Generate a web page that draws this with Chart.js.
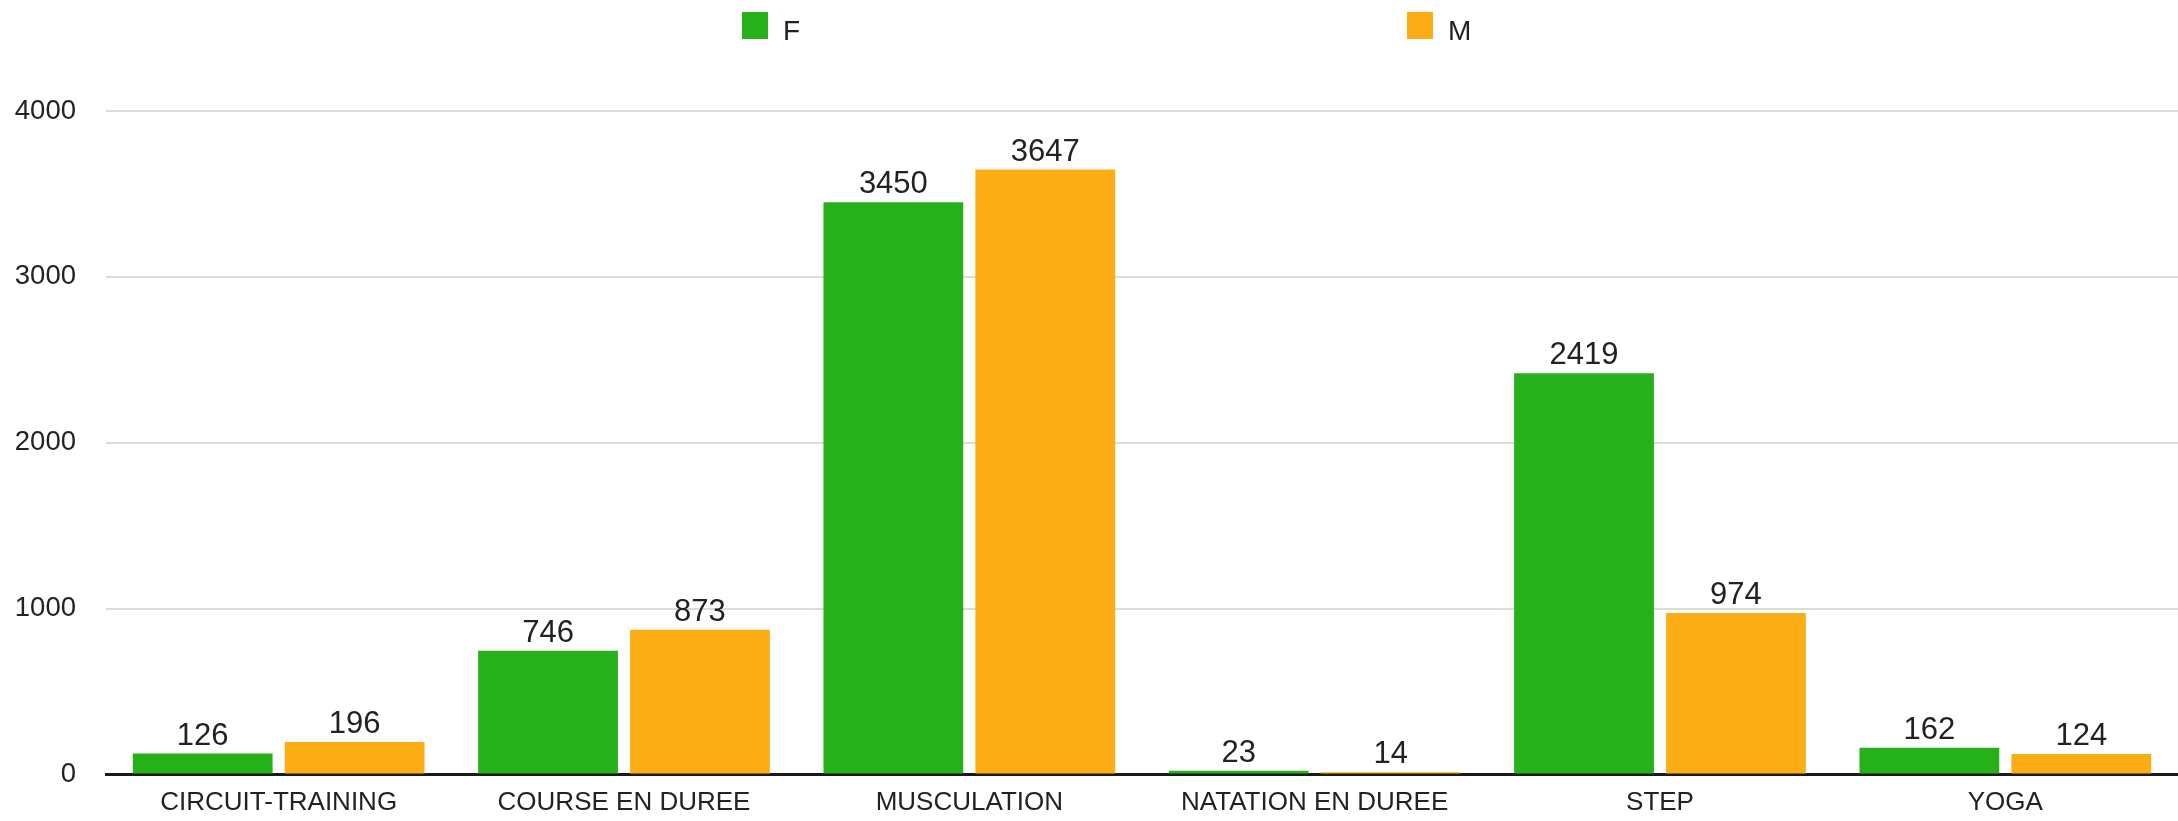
<!DOCTYPE html>
<html>
<head>
<meta charset="utf-8">
<script src="https://cdn.jsdelivr.net/npm/chart.js@4.4.0/dist/chart.umd.min.js"></script>
<style>
  body { margin: 0; background: #fff; }
  #wrap { position: relative; width: 2178px; height: 821px; }
  canvas { display: block; }
  .lg-box { position: absolute; top: 12px; width: 26px; height: 27px; }
  .lg-text { position: absolute; top: 15px; height: 28px; line-height: 28px;
             font: 28px 'Liberation Sans', Arial, sans-serif; color: #222; }
</style>
</head>
<body>
<div id="wrap">
  <canvas id="chart" width="2178" height="821"></canvas>
  <div id="legend"></div>
</div>
<script>
// données
const categories = ['CIRCUIT-TRAINING', 'COURSE EN DUREE', 'MUSCULATION', 'NATATION EN DUREE', 'STEP', 'YOGA'];
const seriesNames = ['F', 'M'];
const valuesF = [126, 746, 3450, 23, 2419, 162];
const valuesM = [196, 873, 3647, 14, 974, 124];
const yMin = 0;
const yMax = 4000;
const yStep = 1000;

const colors = ['#26b019', '#fcad15'];
const legendLeft = [742, 1407];

// légende HTML
const legend = document.getElementById('legend');
seriesNames.forEach((name, i) => {
    const box = document.createElement('div');
    box.className = 'lg-box';
    box.style.left = legendLeft[i] + 'px';
    box.style.background = colors[i];
    legend.appendChild(box);

    const txt = document.createElement('div');
    txt.className = 'lg-text';
    txt.style.left = (legendLeft[i] + 41) + 'px';
    txt.textContent = name;
    legend.appendChild(txt);
});

// étiquettes au-dessus des barres
const valueLabels = {
    id: 'valueLabels',
    afterDatasetsDraw(chart) {
        const ctx = chart.ctx;
        ctx.save();
        ctx.font = "31px 'Liberation Sans', Arial, sans-serif";
        ctx.fillStyle = '#222';
        ctx.textAlign = 'center';
        ctx.textBaseline = 'alphabetic';
        chart.data.datasets.forEach((ds, i) => {
            chart.getDatasetMeta(i).data.forEach((bar, j) => {
                ctx.fillText(String(ds.data[j]), bar.x, bar.y - 9);
            });
        });
        ctx.restore();
    }
};

Chart.defaults.font.family = "'Liberation Sans', Arial, sans-serif";
Chart.defaults.color = '#222';

new Chart(document.getElementById('chart'), {
    type: 'bar',
    data: {
        labels: categories,
        datasets: [{
            label: seriesNames[0],
            data: valuesF,
            backgroundColor: colors[0],
            borderWidth: 0
        }, {
            label: seriesNames[1],
            data: valuesM,
            backgroundColor: colors[1],
            borderWidth: 0
        }]
    },
    options: {
        responsive: false,
        devicePixelRatio: 1,
        animation: false,
        categoryPercentage: 0.88,
        barPercentage: 0.92,
        layout: {
            padding: { top: 111, left: 15, right: 0, bottom: 0 }
        },
        plugins: {
            legend: { display: false },
            tooltip: { enabled: false }
        },
        scales: {
            x: {
                z: 1,
                afterFit(scale) { scale.height = 41; },
                grid: { display: false, drawTicks: false },
                border: { display: true, color: '#1a1a1a', width: 3 },
                ticks: {
                    padding: 13,
                    font: { size: 26 },
                    color: '#222',
                    maxRotation: 0,
                    autoSkip: false
                }
            },
            y: {
                min: yMin,
                max: yMax,
                afterFit(scale) { scale.width = 91; },
                grid: { color: '#dcdcdc', lineWidth: 2, drawTicks: false },
                border: { display: false },
                ticks: {
                    stepSize: yStep,
                    padding: 30,
                    font: { size: 27.5 },
                    color: '#222',
                    callback: v => String(v)
                }
            }
        }
    },
    plugins: [valueLabels]
});
</script>
</body>
</html>
